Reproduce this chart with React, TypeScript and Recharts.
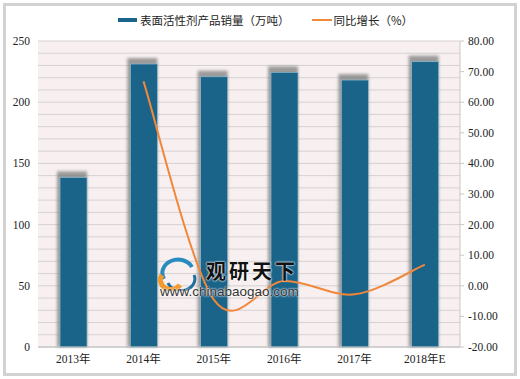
import React from 'react';
import { ComposedChart, Bar, Line, XAxis, YAxis, CartesianGrid } from 'recharts';

const categories = ['2013年', '2014年', '2015年', '2016年', '2017年', '2018年E'];
const sales = [138.6, 231.2, 220.8, 224.4, 218.1, 233.1];
const growth: (number | null)[] = [null, 66.8, -4.5, 1.6, -2.8, 6.9];
const leftTicks = [0, 50, 100, 150, 200, 250];
const rightTicks = [-20, -10, 0, 10, 20, 30, 40, 50, 60, 70, 80];
const gridValues = Array.from({ length: 26 }, (_, i) => i * 10);
const salesName = '表面活性剂产品销量（万吨）';
const growthName = '同比增长（%）';

const data = categories.map((c, i) => ({ name: c, sales: sales[i], growth: growth[i] }));

const BAR = '#1b6489';
const LINE = '#f0873a';
const FONT = "'Liberation Serif', 'Noto Sans CJK SC', serif";

// Excel-like smooth curve (Catmull-Rom through points)
const smoothCurve: any = (context: any) => {
  let pts: number[][] = [];
  return {
    areaStart() {},
    areaEnd() {},
    lineStart() { pts = []; },
    point(x: number, y: number) { pts.push([+x, +y]); },
    lineEnd() {
      if (!pts.length) return;
      context.moveTo(pts[0][0], pts[0][1]);
      const t = 1 / 6;
      for (let i = 0; i < pts.length - 1; i++) {
        const p0 = pts[i - 1] || pts[i];
        const p1 = pts[i];
        const p2 = pts[i + 1];
        const p3 = pts[i + 2] || p2;
        context.bezierCurveTo(
          p1[0] + (p2[0] - p0[0]) * t, p1[1] + (p2[1] - p0[1]) * t,
          p2[0] - (p3[0] - p1[0]) * t, p2[1] - (p3[1] - p1[1]) * t,
          p2[0], p2[1]
        );
      }
    },
  };
};

const ShadowBar = (props: any) => {
  const { x, y, width, height, index } = props;
  if (height == null || width == null) return null;
  const id = `barShadow${index}`;
  return (
    <g>
      <defs>
        <filter id={id} x="-30%" y="-10%" width="160%" height="120%">
          <feGaussianBlur stdDeviation="1.4" />
        </filter>
      </defs>
      <rect x={x - 3} y={y - 6} width={width + 3} height={height + 6} fill="#7d7d7d" opacity={0.75} filter={`url(#${id})`} />
      <rect x={x} y={y} width={width} height={height} fill={BAR} stroke="#8fbad0" strokeWidth={0.7} />
    </g>
  );
};

export default function App() {
  return (
    <div style={{ position: 'absolute', left: 0, top: 0, width: 520, height: 379, background: '#fff', fontFamily: FONT }}>
      <div style={{ position: 'absolute', left: 3, top: 3, width: 508, height: 367, border: '3px solid #d2d2d2', background: '#fff' }} />
      <div style={{ position: 'absolute', left: 0, top: 0 }}>
        <ComposedChart width={520} height={379} data={data} margin={{ top: 41, right: 0, bottom: 0, left: 0 }} barSize={27}>
          <CartesianGrid
            yAxisId="left"
            vertical={false}
            horizontalValues={gridValues}
            stroke="#d6d2d2"
            strokeWidth={1}
            fill="#f8f0f0"
          />
          <XAxis
            dataKey="name"
            height={32}
            tick={{ fill: '#222', fontSize: 11.5, fontFamily: FONT }}
            axisLine={{ stroke: '#bcbcbc' }}
            tickLine={false}
          />
          <YAxis
            yAxisId="left"
            width={38}
            domain={[0, 250]}
            ticks={leftTicks}
            tick={{ fill: '#222', fontSize: 11.5, fontFamily: FONT }}
            axisLine={false}
            tickLine={false}
            interval={0}
          />
          <YAxis
            yAxisId="right"
            orientation="right"
            width={60}
            domain={[-20, 80]}
            ticks={rightTicks}
            tickFormatter={(v: number) => v.toFixed(2)}
            tick={{ fill: '#222', fontSize: 11.5, fontFamily: FONT }}
            axisLine={{ stroke: '#c8c8c8' }}
            tickLine={{ stroke: '#c8c8c8' }}
            tickSize={4}
            tickMargin={4}
            interval={0}
          />
          <Bar yAxisId="left" dataKey="sales" name={salesName} fill={BAR} shape={<ShadowBar />} isAnimationActive={false} />
          <Line
            yAxisId="right"
            dataKey="growth"
            name={growthName}
            type={smoothCurve}
            stroke={LINE}
            strokeWidth={2}
            dot={false}
            activeDot={false}
            isAnimationActive={false}
          />
        </ComposedChart>
      </div>
      {/* Legend */}
      <div style={{ position: 'absolute', top: 12, left: 118, display: 'flex', alignItems: 'center', fontSize: 11.5, color: '#222', fontFamily: "'Noto Sans CJK SC', sans-serif", whiteSpace: 'nowrap' }}>
        <span style={{ display: 'inline-block', width: 19, height: 4, background: BAR, marginRight: 3 }} />
        <span>{salesName}</span>
        <span style={{ display: 'inline-block', width: 20, height: 2, background: LINE, marginLeft: 22, marginRight: 2 }} />
        <span>{growthName}</span>
      </div>
      {/* Watermark */}
      <svg style={{ position: 'absolute', left: 158, top: 257 }} width={42} height={34}>
        <path d="M6 22 A14 12 0 0 1 34 10" stroke="#2a8bc0" strokeWidth={4} fill="none" />
        <path d="M10 26 A12 10 0 0 0 36 18" stroke="#1f6f9e" strokeWidth={3} fill="none" />
        <path d="M4 18 A10 9 0 0 0 22 28" stroke="#f29a2e" strokeWidth={5} fill="none" />
      </svg>
      <div style={{ position: 'absolute', left: 206, top: 259, fontSize: 20, fontWeight: 'bold', letterSpacing: 3, color: '#111', fontFamily: "'Noto Sans CJK SC', sans-serif", textShadow: '0 0 2px #fff, 0 0 2px #fff', whiteSpace: 'nowrap', lineHeight: '24px' }}>
        观研天下
      </div>
      <div style={{ position: 'absolute', left: 160, top: 284, fontSize: 13.5, color: '#333', fontFamily: "'Liberation Sans', Arial, sans-serif", textShadow: '0 0 2px #fff, 0 0 2px #fff', whiteSpace: 'nowrap', lineHeight: '16px' }}>
        www.chinabaogao.com
      </div>
    </div>
  );
}
